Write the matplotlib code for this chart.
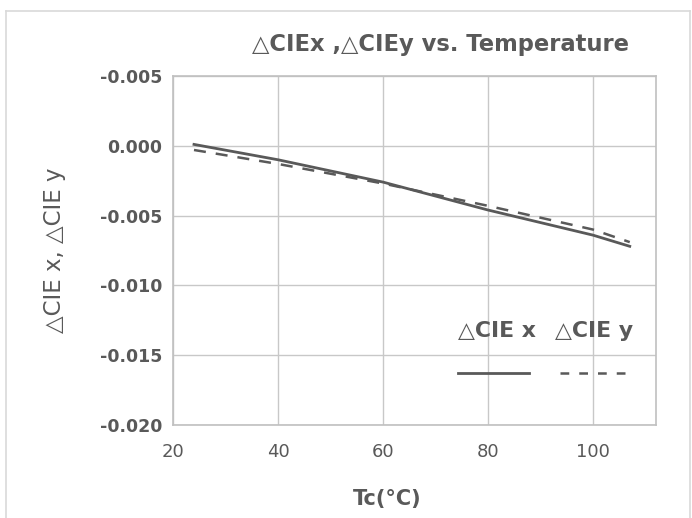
import matplotlib.pyplot as plt
from matplotlib.lines import Line2D

# data
temp = [24, 40, 60, 80, 100, 107]
cie_x = [0.0001, -0.0010, -0.0026, -0.0046, -0.0064, -0.0072]
cie_y = [-0.0003, -0.0013, -0.0027, -0.0043, -0.0060, -0.0069]

x_ticks = [20, 40, 60, 80, 100]
y_ticks = [0.005, 0.0, -0.005, -0.010, -0.015, -0.020]
y_labels = ['-0.005', '0.000', '-0.005', '-0.010', '-0.015', '-0.020']

plt.rcParams['font.family'] = ['DejaVu Sans']
txt = '#595959'
grid = '#c8c8c8'

fig = plt.figure(figsize=(6.92, 5.18), dpi=100)
ax = fig.add_axes([173/692, 1 - 425/518, (656 - 173)/692, (425 - 76)/518])

ax.plot(temp, cie_x, color='#595959', lw=2.0, label='△CIE x')
ax.plot(temp, cie_y, color='#595959', lw=1.8, dashes=(4.8, 4), label='△CIE y')

ax.set_xlim(20, 112)
ax.set_ylim(-0.020, 0.005)
ax.set_xticks(x_ticks)
ax.set_yticks(y_ticks)
ax.set_yticklabels(y_labels, fontweight='bold')
ax.tick_params(length=0, colors=txt, labelsize=12.5)
ax.tick_params(axis='x', pad=13, labelsize=13)
ax.tick_params(axis='y', pad=8)
ax.grid(True, color=grid, lw=1)
ax.set_axisbelow(True)
for s in ax.spines.values():
    s.set_color('#c0c0c0')
    s.set_linewidth(1.2)

ax.set_xlabel('Tc(°C)', fontsize=15, fontweight='bold', color=txt, labelpad=20, x=0.443)
ax.set_ylabel('△CIE x, △CIE y', fontsize=16.5, color=txt, labelpad=24)
fig.text(441/692, 1 - 45/518, '△CIEx ,△CIEy vs. Temperature', ha='center', va='center',
         fontsize=16.3, fontweight='bold', color=txt)

# legend: text above line samples
ax.text(0.59, 0.268, '△CIE x', transform=ax.transAxes, ha='left', va='center',
        fontsize=15.8, fontweight='bold', color=txt)
ax.text(0.79, 0.268, '△CIE y', transform=ax.transAxes, ha='left', va='center',
        fontsize=15.8, fontweight='bold', color=txt)
ax.add_line(Line2D([0.59, 0.737], [0.15, 0.15], transform=ax.transAxes, color='#595959', lw=2.0))
ax.add_line(Line2D([0.802, 0.945], [0.15, 0.15], transform=ax.transAxes, color='#595959', lw=1.8,
                   dashes=(3.5, 4)))

# outer frame (left, top, right)
frame = dict(color='#d9d9d9', lw=1.2, transform=fig.transFigure)
fig.add_artist(Line2D([6/692, 6/692], [0, 1 - 11/518], **frame))
fig.add_artist(Line2D([6/692, 690/692], [1 - 11/518, 1 - 11/518], **frame))
fig.add_artist(Line2D([690/692, 690/692], [0, 1 - 11/518], **frame))

fig.savefig('out.png', dpi=100)
